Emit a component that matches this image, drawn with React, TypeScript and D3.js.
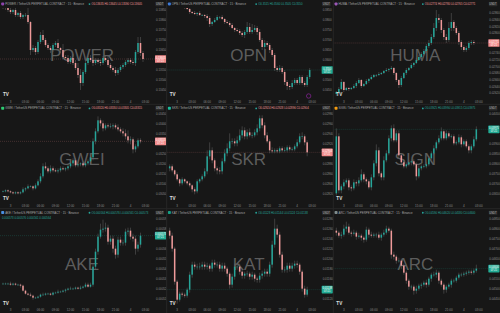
import React from 'react';
import * as d3 from 'd3';

const W = 500;
const H = 313;
const colW = W / 3;
const rowH = H / 3;

// ---- data (closes / wick lengths, in price ticks of each panel) ----
const powerClose = [93,92,90,88,90,85,87,83,85,85,78,50,52,48,58,65,60,55,52,50,55,57,52,50,43,42,38,42,37,32,25,17,28,37,42,40,37,40,38,37,42,40,35,32,30,27,30,33,35,38,40,38,37,48,57,47,41];
const powerUp = [2,1,2,2,1,3,1,2,1,2,7,1,3,2,2,3,5,2,2,2,2,2,4,1,6,2,3,2,4,3,5,6,2,2,2,3,3,2,2,2,2,2,4,2,2,3,2,2,2,2,2,2,2,2,6,6,2];
const powerDn = [2,2,2,2,2,2,2,2,2,2,2,5,2,3,2,2,2,2,2,3,2,2,2,3,2,2,2,2,2,2,3,7,3,2,2,2,3,2,2,3,2,2,2,2,2,3,2,2,2,2,2,2,2,3,2,3,3];

const opnClose = [95,94,93,93,94,95,93,91,88,87,86,87,85,85,84,82,76,78,80,83,83,81,78,77,75,72,70,69,67,65,68,73,68,70,72,68,60,53,57,55,50,45,32,30,32,28,18,14,13,17,20,17,23,17,15,23,30];
const opnUp = [1,1,2,1,1,2,1,2,1,1,2,1,2,1,1,2,2,1,2,2,1,2,1,2,2,2,1,2,2,2,2,5,4,6,3,2,3,2,3,2,2,2,2,2,3,2,2,2,2,3,2,2,2,2,2,2,2];
const opnDn = [1,2,1,1,1,1,2,1,2,1,1,2,1,1,2,3,3,2,1,1,2,1,2,1,2,1,2,1,2,2,3,2,2,2,2,3,2,3,2,2,3,2,3,2,2,2,3,4,3,2,2,2,2,2,2,2,2];

const humaClose = [8,11,18,10,12,11,12,14,17,20,14,16,19,21,23,25,25,26,27,29,30,31,32,27,20,15,22,27,30,32,35,37,40,43,46,49,54,57,63,72,82,80,70,63,60,72,78,72,67,58,53,50,52,57,58,57];
const humaUp = [1,2,3,1,1,1,1,2,2,2,1,1,2,1,2,1,1,2,1,1,2,1,2,1,1,1,2,1,2,1,2,1,2,2,2,2,2,3,3,5,8,4,2,2,3,6,9,2,2,2,2,2,2,2,2,2];
const humaDn = [2,2,1,2,1,2,1,1,2,1,2,1,1,2,1,1,2,1,1,1,1,2,1,2,2,3,2,1,2,1,1,2,1,1,2,1,2,2,2,2,3,3,3,3,3,2,3,3,2,3,3,2,2,2,2,2];

const gweiClose = [13,14,13,12,11,12,11,12,15,16,18,18,16,19,23,28,38,36,33,36,34,33,34,36,35,36,38,41,44,39,40,41,39,41,43,47,63,73,84,81,76,79,78,78,79,77,75,73,71,68,64,65,55,58,64,63];
const gweiUp = [1,1,1,1,1,1,1,1,2,1,2,1,1,2,2,3,3,4,2,3,2,2,2,2,2,1,2,2,2,2,2,1,2,2,2,2,3,3,4,2,3,2,2,3,2,2,3,2,3,4,6,3,2,2,2,2];
const gweiDn = [1,1,1,1,1,1,1,1,1,2,1,1,2,1,1,2,2,2,2,2,2,1,2,2,1,2,2,2,3,2,2,2,2,2,2,3,3,3,2,3,3,2,2,2,3,2,2,2,3,3,3,4,4,3,2,2];

const skrClose = [38,34,30,25,21,25,23,21,19,15,13,23,25,28,33,48,54,44,36,34,33,43,51,56,63,63,61,64,69,74,68,72,69,69,72,76,86,79,69,63,54,53,54,53,56,54,54,57,55,55,58,62,68,68,62,52];
const skrUp = [2,2,1,2,1,2,1,1,2,1,2,2,1,2,3,6,8,3,2,2,3,3,4,5,8,3,3,4,6,4,3,3,4,3,3,4,3,3,3,3,2,3,2,2,2,2,3,2,2,2,2,3,3,4,2,2];
const skrDn = [3,2,2,2,3,2,2,2,2,3,3,2,2,2,2,3,3,3,3,4,3,3,2,3,3,3,3,3,2,3,3,3,2,3,2,3,3,3,3,2,3,2,2,2,2,2,2,2,2,2,2,2,2,3,3,4];

const signClose = [68,14,18,22,24,17,16,22,21,24,30,25,23,17,27,41,54,31,27,44,51,66,76,64,71,49,42,38,40,42,43,40,28,36,38,38,40,46,51,56,62,66,73,66,71,68,68,61,62,67,60,63,58,54,58,65,75];
const signUp = [8,3,2,3,2,2,2,3,2,3,5,2,2,2,3,3,6,3,2,4,3,3,3,4,3,3,2,2,2,2,2,2,2,3,2,2,2,2,2,3,2,3,4,2,3,2,2,2,2,3,2,2,2,2,2,3,3];
const signDn = [2,3,3,3,2,3,3,2,3,3,2,3,3,2,3,3,3,3,3,3,2,2,3,2,2,3,3,2,2,2,3,2,4,2,2,2,2,2,2,2,2,2,2,2,2,2,2,2,2,2,3,2,2,3,3,2,2];

const akeClose = [25,25,25,24,25,24,24,23,18,15,14,13,11,11,12,14,14,15,15,14,16,16,17,17,18,19,20,20,20,21,20,21,22,24,22,24,42,57,72,79,80,81,67,70,60,54,69,66,66,77,78,72,70,60,64,73];
const akeUp = [1,1,1,2,1,1,1,1,1,1,1,2,1,1,1,1,2,1,1,1,1,1,2,1,1,1,1,2,1,1,1,2,1,2,2,2,3,3,3,6,9,5,3,3,3,3,3,3,3,3,3,3,3,3,3,3];
const akeDn = [1,1,1,1,1,1,1,2,1,1,1,1,2,1,1,1,1,1,1,1,1,1,1,1,1,2,1,1,1,1,1,1,1,1,1,1,2,3,3,2,3,3,3,3,4,4,3,3,3,3,3,3,3,6,3,3];

const katClose = [73,60,27,9,15,14,13,19,34,44,42,42,42,44,42,43,40,46,44,44,40,43,40,35,24,32,42,42,37,33,35,35,32,34,30,29,33,35,37,35,44,64,80,74,54,39,39,43,40,43,45,44,37,20,14,19];
const katUp = [3,3,2,2,2,2,2,2,3,3,3,3,4,3,3,3,2,3,3,3,3,3,3,2,2,3,3,3,3,2,2,3,2,3,2,2,3,3,3,3,3,4,10,4,3,3,3,3,3,3,3,3,2,2,3,3];
const katDn = [3,3,3,4,2,2,2,2,3,3,3,3,3,3,3,3,3,3,3,3,3,3,3,3,4,3,3,3,3,3,3,3,3,3,3,3,3,3,3,3,3,3,3,3,3,3,3,3,3,3,3,3,3,3,3,2];

const arcClose = [76,73,74,80,82,76,75,76,72,73,71,69,79,74,73,74,74,71,74,76,80,78,54,52,48,48,43,36,28,22,22,18,20,23,24,26,24,30,34,34,36,28,24,19,22,24,28,28,31,34,34,35,36,37,36,38,40];
const arcUp = [3,2,3,4,5,3,2,3,2,3,2,2,3,2,3,2,2,3,2,3,3,2,2,3,2,3,2,2,2,2,2,2,3,2,2,2,3,2,2,3,3,2,2,2,2,2,2,2,2,2,2,2,2,2,2,2,4];
const arcDn = [3,2,3,2,3,2,3,2,3,2,3,3,2,3,2,2,3,2,3,2,2,2,4,3,3,2,3,2,3,3,3,4,3,2,3,2,3,2,3,2,3,3,2,4,3,2,3,2,2,2,2,2,2,2,2,2,2];

const timeTickIdx = [3, 9, 15, 21, 27, 33, 39, 45, 51, 57];
const timeTickLabels = ['3', '03:00', '06:00', '09:00', '12:00', '15:00', '18:00', '21:00', '4', '03:00'];

const panels = [
  { sym: 'POWER', icon: '#8e44ad', open0: 95, close: powerClose, up: powerUp, dn: powerDn, base: 0.134, pip: 0.00005 },
  { sym: 'OPN', icon: '#3d7bd9', open0: 96, close: opnClose, up: opnUp, dn: opnDn, base: 0.34, pip: 0.0005 },
  { sym: 'HUMA', icon: '#9b59b6', open0: 6, close: humaClose, up: humaUp, dn: humaDn, base: 0.026, pip: 0.00003 },
  { sym: 'GWEI', icon: '#2ecc71', open0: 13, close: gweiClose, up: gweiUp, dn: gweiDn, base: 0.03, pip: 0.00005 },
  { sym: 'SKR', icon: '#1abc9c', open0: 36, close: skrClose, up: skrUp, dn: skrDn, base: 0.028, pip: 0.00002 },
  { sym: 'SIGN', icon: '#f39c12', open0: 11, close: signClose, up: signUp, dn: signDn, base: 0.036, pip: 0.00005 },
  { sym: 'AKE', icon: '#4a90e2', open0: 25, close: akeClose, up: akeUp, dn: akeDn, base: 0.0005, pip: 0.000001 },
  { sym: 'KAT', icon: '#16a085', open0: 78, close: katClose, up: katUp, dn: katDn, base: 0.011, pip: 0.00002 },
  { sym: 'ARC', icon: '#7f8c8d', open0: 78, close: arcClose, up: arcUp, dn: arcDn, base: 0.044, pip: 0.00005 },
];

const BG = '#171717';
const UP = '#26a69a';
const DOWN = '#ef9a9a';
const TAG_UP = '#22ab94';
const TAG_DOWN = '#f28b8b';
const WICK = '#6a6a6a';
const TXT = '#8a8a8a';
const FONT = 'Liberation Sans, Arial, sans-serif';

function Panel({ p, idx }: { p: any; idx: number }) {
  const col = idx % 3;
  const row = Math.floor(idx / 3);
  const left = col * colW;
  const top = row * rowH;
  const plotRight = left + 155;
  const decimals = Math.max(0, Math.ceil(-Math.log10(p.pip)));
  const fmt = d3.format(`.${decimals}f`);
  const price = (v: number) => p.base + v * p.pip;

  const x = d3.scaleLinear().domain([0, 62]).range([left + 3, left + 158]);
  const y = d3.scaleLinear().domain([p.base, p.base + 100 * p.pip]).range([top + 100, top]);

  const candles = p.close.map((cv: number, i: number) => {
    const ov = i === 0 ? p.open0 : p.close[i - 1];
    const hv = Math.max(ov, cv) + (p.up[i] ?? 2);
    const lv = Math.min(ov, cv) - (p.dn[i] ?? 2);
    return { i, o: price(ov), c: price(cv), h: price(hv), l: price(lv) };
  });
  const last = candles[candles.length - 1];
  const lastUp = last.c >= last.o;
  const tagColor = lastUp ? TAG_UP : TAG_DOWN;
  const yLast = y(last.c);
  const ticks = y
    .ticks(10)
    .filter((t) => y(t) > top + 9 && y(t) < top + 97 && Math.abs(y(t) - yLast) > 5.5);
  const clipId = `clip-${idx}`;
  const bw = 1.5;

  return (
    <g>
      <defs>
        <clipPath id={clipId}>
          <rect x={left} y={top + 8} width={155} height={rowH - 14} />
        </clipPath>
      </defs>
      <rect x={left} y={top} width={colW} height={rowH} fill={BG} />
      {/* watermark */}
      <text x={left + 82} y={top + 61} textAnchor="middle" fontSize={17} fontFamily={FONT}
        fill="#9a9a9a" fillOpacity={0.55}>{p.sym}</text>
      {/* last price line */}
      <line x1={left} x2={plotRight} y1={yLast} y2={yLast} stroke={tagColor} strokeOpacity={0.35}
        strokeWidth={0.6} strokeDasharray="1,1" />
      <g clipPath={`url(#${clipId})`}>
        {candles.map((d: any) => (
          <line key={'w' + d.i} x1={x(d.i)} x2={x(d.i)} y1={y(d.h)} y2={y(d.l)} stroke={WICK}
            strokeOpacity={0.8} strokeWidth={0.6} />
        ))}
        {candles.map((d: any) => {
          const yt = y(Math.max(d.o, d.c));
          const yb = y(Math.min(d.o, d.c));
          return (
            <rect key={'b' + d.i} x={x(d.i) - bw / 2} width={bw} y={yt} height={Math.max(0.6, yb - yt)}
              fill={d.c >= d.o ? UP : DOWN} />
          );
        })}
      </g>
      {/* header */}
      <rect x={left + 1.2} y={top + 2.4} width={3} height={3} rx={0.8} fill={p.icon} />
      <text x={left + 5.2} y={top + 5.1} fontSize={2.9} fontFamily={FONT} fill="#a8a8a8">
        {`${p.sym} / TetherUS PERPETUAL CONTRACT · 15 · Binance`}
      </text>
      <circle cx={left + 89.5} cy={top + 4.1} r={0.9} fill={UP} />
      <text x={left + 91.5} y={top + 5.1} fontSize={2.8} fontFamily={FONT} fill={lastUp ? UP : DOWN}>
        {`O${fmt(last.o)} H${fmt(last.h)} L${fmt(last.l)} C${fmt(last.c)}`}
      </text>
      {p.sym === 'AKE' && (
        <text x={left + 2} y={top + 10} fontSize={2.8} fontFamily={FONT} fill={UP}>
          {`${fmt(last.c)}  ${fmt(last.h)}  ${fmt(last.l)}  ${fmt(last.o)}`}
        </text>
      )}
      {/* price axis */}
      <rect x={left + 155.5} y={top + 2} width={8.5} height={4.2} rx={0.6} fill="#2c2c2c" />
      <text x={left + 159.7} y={top + 5.1} textAnchor="middle" fontSize={2.7} fontFamily={FONT} fill="#bbb">USDT</text>
      {ticks.map((t) => (
        <text key={'t' + t} x={left + 156} y={y(t) + 1} fontSize={2.9} fontFamily={FONT} fill={TXT}>{fmt(t)}</text>
      ))}
      <rect x={left + 155} y={yLast - 3.8} width={11.2} height={7.6} rx={0.6} fill={tagColor} />
      <text x={left + 160.6} y={yLast - 0.5} textAnchor="middle" fontSize={2.7} fontFamily={FONT} fill="#fff">{fmt(last.c)}</text>
      <text x={left + 160.6} y={yLast + 2.8} textAnchor="middle" fontSize={2.6} fontFamily={FONT} fill="#fff">07:21</text>
      {/* time axis */}
      {timeTickIdx.map((ti, k) => (
        <text key={'x' + k} x={x(ti)} y={top + 102.6} textAnchor="middle" fontSize={3} fontFamily={FONT}
          fill={TXT}>{timeTickLabels[k]}</text>
      ))}
      {/* logo */}
      <text x={left + 3} y={top + 96} fontSize={4.6} fontWeight="bold" fontFamily={FONT} fill="#e0e0e0">TV</text>
      {p.sym === 'OPN' && (
        <circle cx={left + 142} cy={top + 96} r={2.2} fill="none" stroke="#9c27b0" strokeWidth={0.6} />
      )}
    </g>
  );
}

export default function App() {
  return (
    <svg width={W} height={H} style={{ position: 'fixed', left: 0, top: 0, background: '#0f0f0f' }}>
      <rect x={0} y={0} width={W} height={H} fill="#0f0f0f" />
      {panels.map((p, i) => (
        <Panel key={p.sym} p={p} idx={i} />
      ))}
      {[1, 2].map((k) => (
        <line key={'vc' + k} x1={k * colW} x2={k * colW} y1={0} y2={H} stroke="#262626" strokeWidth={1} />
      ))}
      {[1, 2].map((k) => (
        <line key={'hr' + k} x1={0} x2={W} y1={k * rowH} y2={k * rowH} stroke="#262626" strokeWidth={1} />
      ))}
    </svg>
  );
}
